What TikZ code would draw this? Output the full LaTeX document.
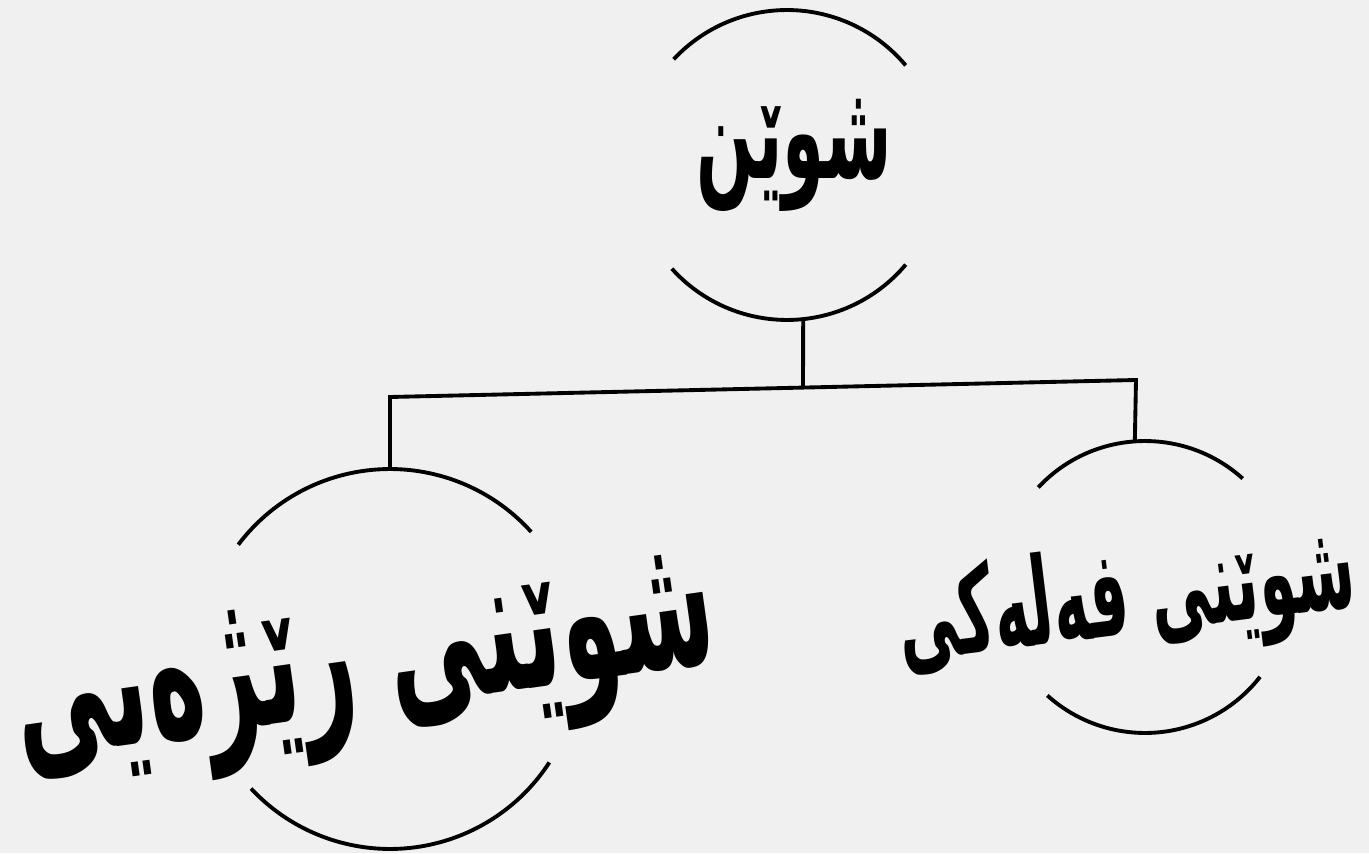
\documentclass[tikz,border=0pt]{standalone}
\usepackage{fontspec}
\newfontfamily\kurdfont[Script=Arabic,FakeStretch=0.5]{DejaVu Sans Bold}
\TeXXeTstate=1
\begin{document}
\begin{tikzpicture}[x=0.02cm,y=0.02cm,line width=2.2pt,
	ring/.style={circle,draw=none,inner sep=0pt,outer sep=0pt},
	word/.style={font=\kurdfont,inner sep=0pt}]
		\useasboundingbox (0,0) rectangle (1369,853);
		\fill[black!6] (0,0) rectangle (1369,853);
		\node[ring,minimum size=6.2cm] (rootring) at (787,688) {};
		\node[ring,minimum size=7.6cm] (relring) at (390,194) {};
		\node[ring,minimum size=5.84cm] (absring) at (1145,266) {};
		\draw (rootring.40) arc[start angle=40,end angle=137,radius=3.1cm];
		\draw (rootring.222) arc[start angle=222,end angle=320,radius=3.1cm];
		\draw (relring.42) arc[start angle=42,end angle=143,radius=3.8cm];
		\draw (relring.223) arc[start angle=223,end angle=327,radius=3.8cm];
		\draw (absring.48) arc[start angle=48,end angle=137,radius=2.92cm];
		\draw (absring.228) arc[start angle=228,end angle=322,radius=2.92cm];
		\node[word,font=\kurdfont\fontsize{77}{84}\selectfont] (root) at (794,698) {\beginR شوێن\endR};
		\node[word,font=\kurdfont\fontsize{110}{120}\selectfont,rotate=8] (rel) at (366,178) {\beginR شوێنی رێژەیی\endR};
		\node[word,font=\kurdfont\fontsize{69}{76}\selectfont,rotate=7] (abs) at (1127,250) {\beginR شوێنی فەلەکی\endR};
		\coordinate (mid) at (803,467);
		\coordinate (bl) at (390,456);
		\coordinate (br) at (1136,473);
		\draw (rootring.-84) -- (mid);
		\draw (relring.north) -- (bl) -- (br) -- (absring.94);
	\end{tikzpicture}
\end{document}
